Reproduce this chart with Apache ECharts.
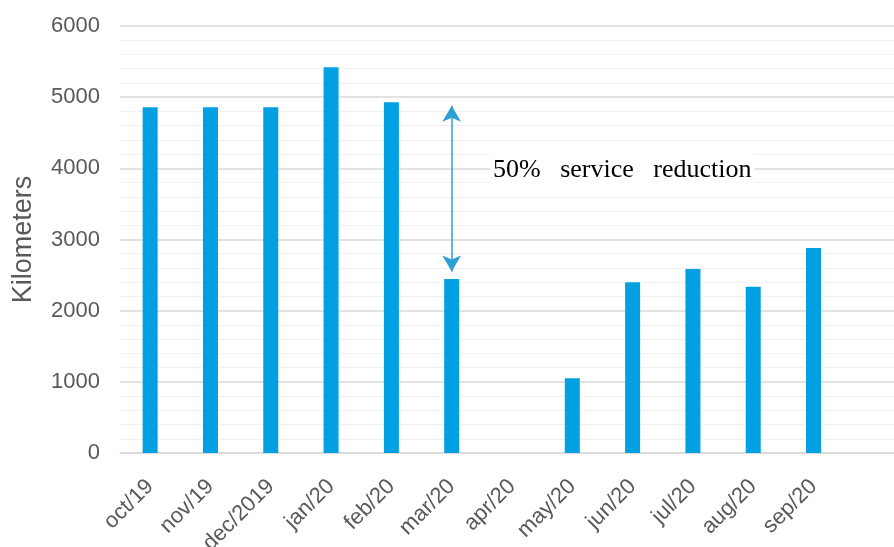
<!DOCTYPE html>
<html>
<head>
<meta charset="utf-8">
<script src="https://cdn.jsdelivr.net/npm/echarts@6/dist/echarts.min.js"></script>
<style>
html,body{margin:0;padding:0;background:#fff;overflow:hidden;width:894px;height:547px;}
#chart{width:904px;height:547px;}
</style>
</head>
<body>
<div id="chart"></div>
<script>
const categories = ['oct/19','nov/19','dec/2019','jan/20','feb/20','mar/20','apr/20','may/20','jun/20','jul/20','aug/20','sep/20'];
const kilometers = [4860, 4860, 4860, 5420, 4930, 2445, 0, 1050, 2400, 2585, 2335, 2880];
const yTicks = [0, 1000, 2000, 3000, 4000, 5000, 6000];
const arrowCategory = 'mar/20';
const arrowRange = [4880, 2550];
const annotationText = '50%   service   reduction';

const chart = echarts.init(document.getElementById('chart'));
chart.setOption({
  animation: false,
  backgroundColor: '#ffffff',
  grid: { left: 120, top: 26, bottom: 94, right: 0, containLabel: false, outerBoundsMode: 'none' },
  xAxis: {
    type: 'category',
    data: categories,
    max: categories.length,
    axisLine: { show: true, lineStyle: { color: '#d9d9d9', width: 1.5 } },
    axisTick: { show: false },
    axisLabel: {
      rotate: 45,
      interval: 0,
      margin: 30,
      color: '#595959',
      fontFamily: 'Liberation Sans, Arial, sans-serif',
      fontSize: 22,
      formatter: (v, i) => (i < categories.length ? v : '')
    }
  },
  yAxis: {
    type: 'value',
    min: yTicks[0],
    max: yTicks[yTicks.length - 1],
    interval: 1000,
    name: 'Kilometers',
    nameLocation: 'middle',
    nameGap: 83,
    nameRotate: 90,
    nameTextStyle: { color: '#595959', fontSize: 27, fontFamily: 'Liberation Sans, Arial, sans-serif' },
    axisLine: { show: false },
    axisTick: { show: false },
    axisLabel: {
      color: '#595959', fontSize: 22, margin: 20,
      fontFamily: 'Liberation Sans, Arial, sans-serif',
      formatter: v => String(v)
    },
    splitLine: { lineStyle: { color: '#d9d9d9', width: 1.5 } },
    minorTick: { show: false, splitNumber: 5 },
    minorSplitLine: { show: true, lineStyle: { color: '#f0f0f0', width: 1 } }
  },
  series: [{
    type: 'bar',
    data: kilometers,
    barWidth: 15,
    itemStyle: { color: '#00A0E3' },
    markLine: {
      silent: true,
      symbol: ['arrow', 'arrow'],
      symbolSize: [14, 16],
      lineStyle: { color: '#2C9FD6', width: 1.5, type: 'solid' },
      label: { show: false },
      data: [[
        { xAxis: arrowCategory, yAxis: arrowRange[0] },
        { xAxis: arrowCategory, yAxis: arrowRange[1] }
      ]]
    }
  }],
  graphic: [{
    type: 'text',
    left: 490,
    top: 150,
    z: 100,
    style: {
      text: annotationText,
      fill: '#000000',
      backgroundColor: '#ffffff',
      padding: [7, 3, 6, 3],
      font: '26px "Liberation Serif", "Times New Roman", serif'
    }
  }]
});
</script>
</body>
</html>
